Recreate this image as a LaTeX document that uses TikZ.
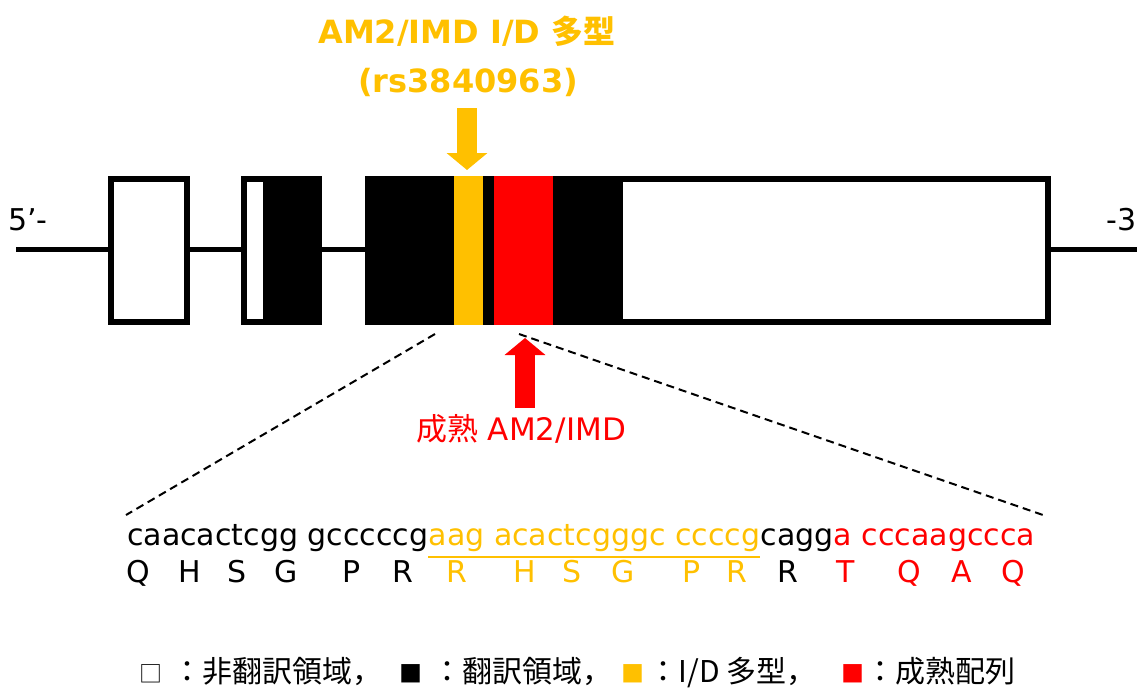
\documentclass[tikz,border=0pt]{standalone}
\usepackage{fontspec}
\setmainfont{DejaVu Sans}
\newfontfamily\jp{Noto Sans CJK JP}
\usetikzlibrary{arrows.meta,positioning}
\definecolor{IDGold}{RGB}{255,192,0}
\definecolor{MatureRed}{RGB}{255,0,0}
\tikzset{
  exon/.style={draw=black,line width=6pt,fill=white},
  intron/.style={draw=black,line width=5pt},
  zoomline/.style={line width=2pt,dash pattern=on 8pt off 5pt},
  blockarrow/.style={line width=20pt,-{Triangle[width=40pt,length=17pt]}},
  seq/.style={inner sep=0pt,anchor=base west,font=\fontsize{30}{36}\selectfont},
  aa/.style={inner sep=0pt,anchor=base,font=\fontsize{30}{36}\selectfont},
  endlabel/.style={inner sep=0pt,font=\fontsize{30}{36}\selectfont},
  toplabel/.style={inner sep=0pt,anchor=base,text=IDGold,
    font=\bfseries\fontsize{32}{38}\selectfont},
  matlabel/.style={inner sep=0pt,anchor=base,text=MatureRed,
    font=\fontsize{31}{37}\selectfont},
  keybox/.style={inner sep=0pt,anchor=base,font=\jp\fontsize{23}{28}\selectfont},
  keytext/.style={inner sep=0pt,anchor=base west,font=\jp\fontsize{30}{36}\selectfont}
}
\begin{document}
\begin{tikzpicture}[x=1pt,y=-1pt]
  \useasboundingbox (0,0) rectangle (1137,689);

  % gene backbone and exons
  \draw[intron] (16,249) -- (1137,249);
  \draw[exon] (111,179) rectangle (187,322);
  \draw[exon] (244,179) rectangle (266,322);
  \fill[black] (263,176) rectangle (322,325);
  \draw[exon] (368,179) rectangle (1048,322);
  \fill[black] (365,176) rectangle (623,325);
  \fill[IDGold] (454,176) rectangle (483,325);
  \fill[MatureRed] (494,176) rectangle (553,325);

  \node[endlabel,anchor=base west] (five) at (8,230) {5’-};
  \node[endlabel,anchor=base east] (three) at (1137,230) {-3};

  % polymorphism and mature peptide markers
  \node[toplabel] (idname) at (467,43) {AM2/IMD I/D {\jp 多型}};
  \node[toplabel] (rsname) at (468,92) {(rs3840963)};
  \coordinate (idtail) at (467,108);
  \coordinate (idtip) at (467,170);
  \draw[blockarrow,IDGold] (idtail) -- (idtip);

  \coordinate (mattail) at (525,408);
  \coordinate (mattip) at (525,338);
  \draw[blockarrow,MatureRed] (mattail) -- (mattip);
  \node[matlabel] (matname) at (521,440) {{\jp 成熟} AM2/IMD};

  % sequence
  \node[seq] (s1) at (127,545) {caacactcgg gcccccg};
  \node[seq,text=IDGold] (s2) at (s1.base east) {aag acactcgggc ccccg};
  \node[seq] (s3) at (s2.base east) {cagg};
  \node[seq,text=MatureRed] (s4) at (s3.base east) {a cccaagccca};
  \draw[IDGold,line width=2pt] (s2.west |- 0,557) -- (s2.east |- 0,557);

  \coordinate (zoomL) at (435,334);
  \coordinate (zoomR) at (519,334);
  \draw[zoomline] (zoomL) -- (126,515);
  \draw[zoomline] (zoomR) -- (1043,515);

  \node[aa] (aa1) at (138,582) {Q};
  \node[aa] (aa2) at (190,582) {H};
  \node[aa] (aa3) at (237,582) {S};
  \node[aa] (aa4) at (286,582) {G};
  \node[aa] (aa5) at (352,582) {P};
  \node[aa] (aa6) at (403,582) {R};
  \node[aa,text=IDGold] (aa7) at (457,582) {R};
  \node[aa,text=IDGold] (aa8) at (525,582) {H};
  \node[aa,text=IDGold] (aa9) at (572,582) {S};
  \node[aa,text=IDGold] (aa10) at (623,582) {G};
  \node[aa,text=IDGold] (aa11) at (692,582) {P};
  \node[aa,text=IDGold] (aa12) at (737,582) {R};
  \node[aa] (aa13) at (788,582) {R};
  \node[aa,text=MatureRed] (aa14) at (846,582) {T};
  \node[aa,text=MatureRed] (aa15) at (909,582) {Q};
  \node[aa,text=MatureRed] (aa16) at (962,582) {A};
  \node[aa,text=MatureRed] (aa17) at (1013,582) {Q};

  % legend
  \node[keybox] (key1) at (150.5,682) {□};
  \node[keytext] (txt1) at (172.5,682) {：非翻訳領域，};
  \node[keybox] (key2) at (410.5,682) {■};
  \node[keytext] (txt2) at (432.5,682) {：翻訳領域，};
  \node[keybox,text=IDGold] (key3) at (632.5,682) {■};
  \node[keytext] (txt3) at (648.5,682) {：I/D 多型，};
  \node[keybox,text=MatureRed] (key4) at (852.5,682) {■};
  \node[keytext] (txt4) at (865,682) {：成熟配列};
\end{tikzpicture}
\end{document}
